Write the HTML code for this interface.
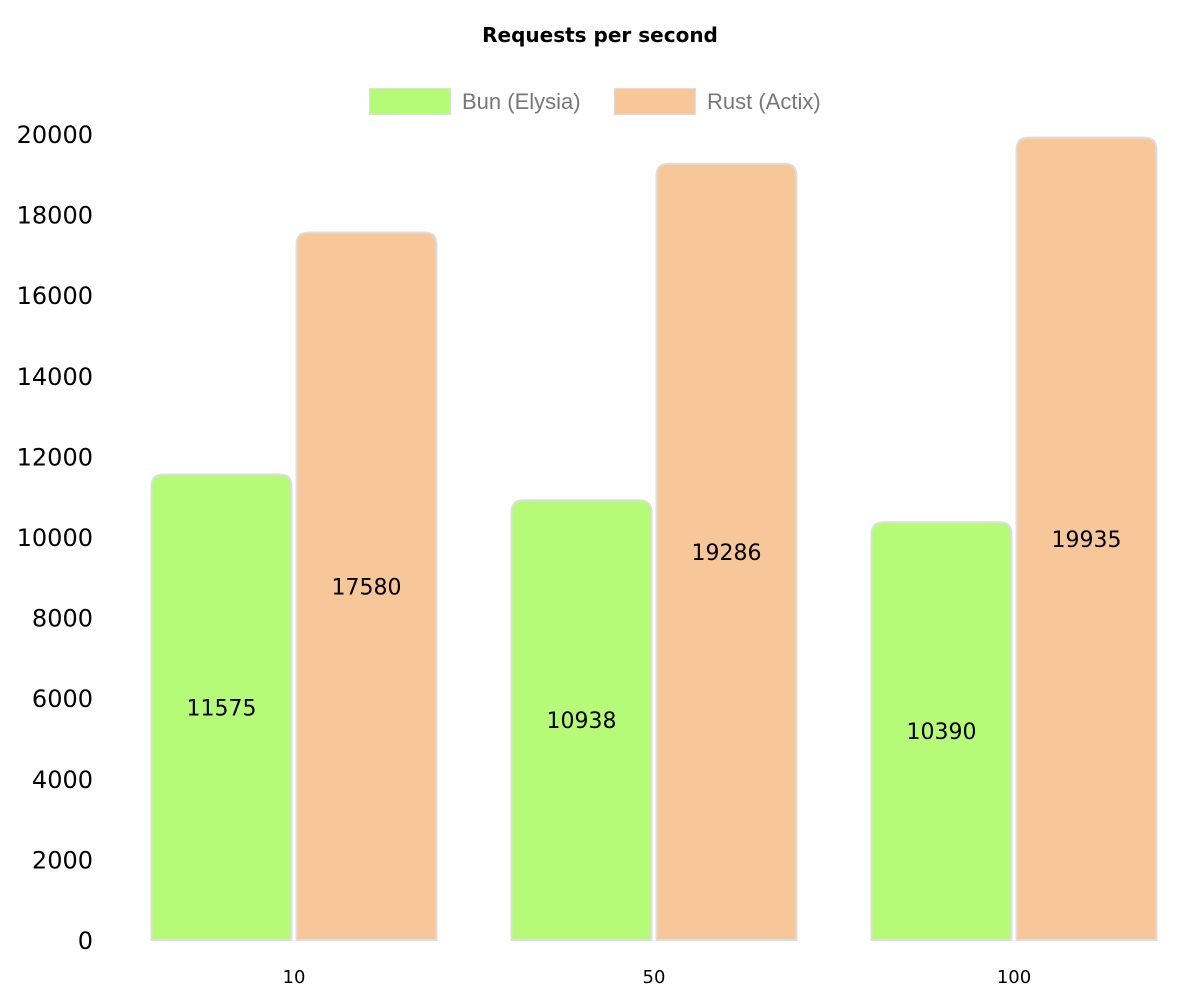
<!DOCTYPE html>
<html><head><meta charset="utf-8"><style>
body{margin:0;background:#fff;width:1200px;height:1000px;overflow:hidden}
svg text{font-family:"DejaVu Sans","Liberation Sans",sans-serif}
</style></head><body>
<svg id="chart" width="1200" height="1000">
<text x="600" y="42" text-anchor="middle" font-size="20" font-weight="bold" fill="#000">Requests per second</text>
<g>
<rect x="369.5" y="88.5" width="81" height="26" fill="#b6fb78" stroke="#ddd"/>
<text x="462" y="109" font-size="22" fill="#777" style="font-family:'Liberation Sans',sans-serif">Bun (Elysia)</text>
<rect x="614.5" y="88.5" width="81" height="26" fill="#f7c699" stroke="#ddd"/>
<text x="707" y="109" font-size="22" fill="#777" style="font-family:'Liberation Sans',sans-serif">Rust (Actix)</text>
</g>
<g id="yaxis"></g>
<g id="bars"></g>
<g id="xaxis"></g>
</svg>
<script>
const categories = ["10", "50", "100"];
const bunValues = [11575, 10938, 10390];
const rustValues = [17580, 19286, 19935];
const yTicks = [0, 2000, 4000, 6000, 8000, 10000, 12000, 14000, 16000, 18000, 20000];

const NS = "http://www.w3.org/2000/svg";
const y0 = 940, yTop = 134, yMax = 20000;
const yScale = v => y0 - (v / yMax) * (y0 - yTop);
const xCenter = i => 294 + 360 * i;
const barW = 141, gap = 4;

function mk(tag, attrs, parent) {
  const e = document.createElementNS(NS, tag);
  for (const k in attrs) e.setAttribute(k, attrs[k]);
  parent.appendChild(e);
  return e;
}
const yAxis = document.getElementById('yaxis');
yTicks.forEach(t => {
  const tx = mk('text', {x: 93, y: yScale(t) + 9, 'text-anchor': 'end', 'font-size': 24, fill: '#000'}, yAxis);
  tx.textContent = t;
  
  
});
const xAxis = document.getElementById('xaxis');
categories.forEach((c, i) => {
  const tx = mk('text', {x: xCenter(i), y: 983, 'text-anchor': 'middle', 'font-size': 18, fill: '#000'}, xAxis);
  tx.textContent = c;
  
  
});
function barPath(x, yt, w, yb, r) {
  r = Math.min(r, (yb - yt));
  return `M${x},${yb}L${x},${yt + r}Q${x},${yt} ${x + r},${yt}L${x + w - r},${yt}Q${x + w},${yt} ${x + w},${yt + r}L${x + w},${yb}Z`;
}
const bars = document.getElementById('bars');
const series = [[bunValues, '#b6fb78', 'bun'], [rustValues, '#f7c699', 'rust']];
categories.forEach((c, i) => {
  series.forEach(([vals, col, nm], s) => {
    const x = s === 0 ? xCenter(i) - gap / 2 - barW : xCenter(i) + gap / 2;
    const yt = yScale(vals[i]) + 1;
    const p = mk('path', {d: barPath(x + 0.5, yt, barW - 1, y0, 12), fill: col, stroke: '#ddd', 'stroke-width': 2}, bars);
    
    
    const t = mk('text', {x: x + barW / 2, y: (yt + y0) / 2 + 8, 'text-anchor': 'middle', 'font-size': 22, fill: '#000'}, bars);
    t.textContent = vals[i];
    
    
  });
});
</script>
</body></html>
